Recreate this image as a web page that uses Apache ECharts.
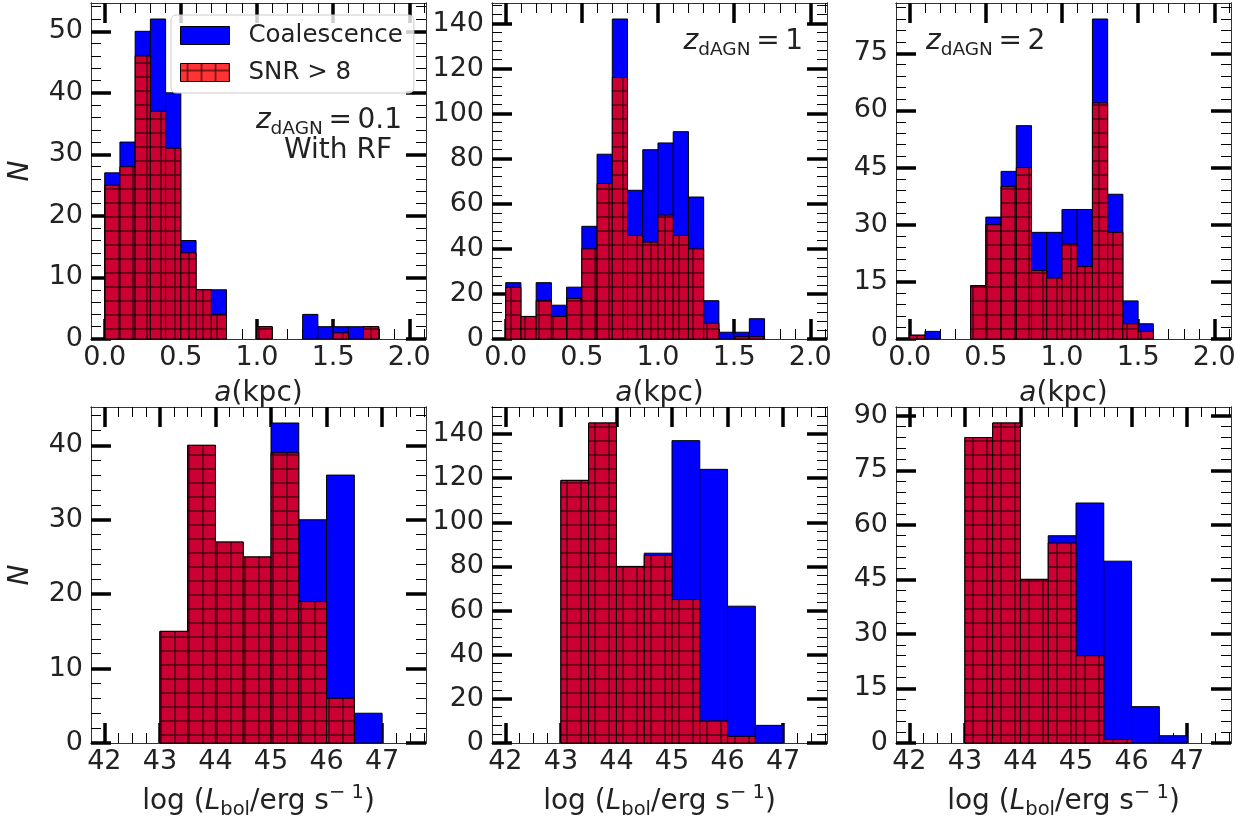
<!DOCTYPE html>
<html>
<head>
<meta charset="utf-8">
<script src="https://cdn.jsdelivr.net/npm/echarts@6/dist/echarts.min.js"></script>
<style>
html, body { margin: 0; padding: 0; background: #fff; }
#main { width: 1250px; height: 821px; }
</style>
</head>
<body>
<div id="main"></div>
<script>
// bin left edges
var aBins = [0.0, 0.1, 0.2, 0.3, 0.4, 0.5, 0.6, 0.7, 0.8, 0.9, 1.0, 1.1, 1.2, 1.3, 1.4, 1.5, 1.6, 1.7];
var lBins = [43.0, 43.5, 44.0, 44.5, 45.0, 45.5, 46.0, 46.5];

// separation a(kpc), counts per bin
var coalA01 = [27, 32, 50, 52, 40, 16, 8, 8, 0, 0, 2, 0, 0, 4, 2, 2, 2, 2];
var snrA01  = [25, 28, 46, 37, 31, 14, 8, 4, 0, 0, 2, 0, 0, 0, 0, 1, 0, 2];
var coalA1  = [25, 10, 25, 15, 23, 50, 82, 142, 66, 84, 87, 92, 63, 17, 3, 3, 9];
var snrA1   = [23, 10, 17, 10, 18, 40, 69, 116, 46, 43, 55, 46, 40, 7, 0, 1, 1];
var coalA2  = [1, 2, 0, 0, 14, 32, 44, 56, 28, 28, 34, 34, 84, 38, 10, 4];
var snrA2   = [1, 0, 0, 0, 14, 30, 40, 45, 18, 16, 25, 19, 62, 28, 4, 2];

// log L_bol, counts per bin
var coalL01 = [15, 40, 27, 25, 43, 30, 36, 4];
var snrL01  = [15, 40, 27, 25, 39, 19, 6, 0];
var coalL1  = [119, 145, 80, 86, 137, 124, 62, 8];
var snrL1   = [119, 145, 80, 85, 65, 10, 3, 0];
var coalL2  = [84, 88, 45, 57, 66, 50, 10, 2];
var snrL2   = [84, 88, 45, 55, 24, 1, 0, 0];

// tick labels
var aTicks = [0, 0.5, 1.0, 1.5, 2.0];
var lTicks = [42, 43, 44, 45, 46, 47];
var yTicksA01 = [0, 10, 20, 30, 40, 50];
var yTicksA1  = [0, 20, 40, 60, 80, 100, 120, 140];
var yTicksA2  = [0, 15, 30, 45, 60, 75];
var yTicksL01 = [0, 10, 20, 30, 40];
var yTicksL1  = [0, 20, 40, 60, 80, 100, 120, 140];
var yTicksL2  = [0, 15, 30, 45, 60, 75, 90];

var FONT = 'DejaVu Sans';
var TXT = '#222';

var chart = echarts.init(document.getElementById('main'));

function hatch(bg) {
    var c = document.createElement('canvas');
    c.width = 14; c.height = 14;
    var ctx = c.getContext('2d');
    ctx.fillStyle = bg;
    ctx.fillRect(0, 0, 14, 14);
    ctx.strokeStyle = 'rgba(25,0,8,0.75)';
    ctx.lineWidth = 1.4;
    ctx.beginPath();
    ctx.moveTo(0, 7); ctx.lineTo(14, 7);
    ctx.moveTo(7, 0); ctx.lineTo(7, 14);
    ctx.stroke();
    return { image: c, repeat: 'repeat' };
}
var redFill = hatch('#cc0033');
var redLegend = hatch('#ff3333');

var panels = [
    { left: 91,  top: 3,   bins: aBins, w: 0.1, coal: coalA01, snr: snrA01, xmin: -0.09, xmax: 2.11, xt: aTicks, xmi: 0.1,  yt: yTicksA01, ymi: 2, kind: 'a', yname: true },
    { left: 492, top: 3,   bins: aBins, w: 0.1, coal: coalA1,  snr: snrA1,  xmin: -0.09, xmax: 2.11, xt: aTicks, xmi: 0.1,  yt: yTicksA1,  ymi: 4, kind: 'a' },
    { left: 896, top: 3,   bins: aBins, w: 0.1, coal: coalA2,  snr: snrA2,  xmin: -0.09, xmax: 2.11, xt: aTicks, xmi: 0.1,  yt: yTicksA2,  ymi: 3, kind: 'a' },
    { left: 91,  top: 407, bins: lBins, w: 0.5, coal: coalL01, snr: snrL01, xmin: 41.76, xmax: 47.79, xt: lTicks, xmi: 0.25, yt: yTicksL01, ymi: 2, kind: 'l', yname: true },
    { left: 492, top: 407, bins: lBins, w: 0.5, coal: coalL1,  snr: snrL1,  xmin: 41.76, xmax: 47.79, xt: lTicks, xmi: 0.25, yt: yTicksL1,  ymi: 4, kind: 'l' },
    { left: 896, top: 407, bins: lBins, w: 0.5, coal: coalL2,  snr: snrL2,  xmin: 41.76, xmax: 47.79, xt: lTicks, xmi: 0.25, yt: yTicksL2,  ymi: 3, kind: 'l' }
];

function minorVals(min, max, step, majors) {
    var out = [];
    for (var k = Math.ceil(min / step); k * step < max; k++) {
        var v = +(k * step).toFixed(4);
        if (v <= min) continue;
        if (majors.some(function (m) { return Math.abs(m - v) < 1e-6; })) continue;
        out.push(v);
    }
    return out;
}

function rich() {
    return {
        n: { fontSize: 28, fontFamily: FONT, color: TXT },
        i: { fontSize: 28, fontFamily: FONT, fontStyle: 'italic', color: TXT },
        sub: { fontSize: 19.5, fontFamily: FONT, color: TXT, padding: [16, 0, 0, 0] },
        sup: { fontSize: 19.5, fontFamily: FONT, color: TXT, padding: [0, 0, 18, 0] }
    };
}

function renderer(fill) {
    return function (params, api) {
        var n = api.value(2);
        if (!n) return;
        var p0 = api.coord([api.value(0), n]);
        var p1 = api.coord([api.value(1), 0]);
        return {
            type: 'rect',
            shape: { x: p0[0], y: p0[1], width: p1[0] - p0[0], height: p1[1] - p0[1] },
            style: { fill: fill, stroke: '#000', lineWidth: 1 }
        };
    };
}

var grids = [], xAxes = [], yAxes = [], series = [];
var lineStyle = { color: '#333', width: 1 };

panels.forEach(function (p, gi) {
    grids.push({ left: p.left, top: p.top, width: 335, height: 336 });
    var ymax = Math.max.apply(null, p.coal) * 1.05;
    var xMinor = minorVals(p.xmin, p.xmax, p.xmi, p.xt);
    var yMinor = minorVals(0, ymax, p.ymi, p.yt);
    var xb = { type: 'value', gridIndex: gi, min: p.xmin, max: p.xmax, splitLine: { show: false },
               axisLine: { show: true, onZero: false, lineStyle: lineStyle } };
    var yb = { type: 'value', gridIndex: gi, min: 0, max: ymax, splitLine: { show: false },
               axisLine: { show: true, onZero: false, lineStyle: lineStyle } };
    var major = function (vals) { return { inside: true, length: 20, customValues: vals, lineStyle: { color: '#000', width: 3.5 } }; };
    var minor = function (vals) { return { inside: true, length: 10, customValues: vals, lineStyle: { color: '#000', width: 1 } }; };
    var xname = p.kind === 'a' ? '{i|a}{n|(kpc)}' : '{n|log (}{i|L}{sub|bol}{n|/erg s}{sup|− 1}{n|)}';

    xAxes.push(Object.assign({}, xb, {
        position: 'bottom', name: xname, nameLocation: 'middle', nameGap: p.kind === 'a' ? 41 : 40,
        nameTextStyle: { rich: rich() },
        axisTick: major(p.xt),
        axisLabel: { customValues: p.xt, fontSize: 27, fontFamily: FONT, color: TXT, margin: 5,
                     formatter: function (v) { return p.kind === 'a' ? v.toFixed(1) : String(v); } }
    }));
    xAxes.push(Object.assign({}, xb, { position: 'bottom', axisTick: minor(xMinor), axisLabel: { show: false } }));
    xAxes.push(Object.assign({}, xb, { position: 'top', axisTick: major(p.xt), axisLabel: { show: false } }));
    xAxes.push(Object.assign({}, xb, { position: 'top', axisTick: minor(xMinor), axisLabel: { show: false } }));

    yAxes.push(Object.assign({}, yb, {
        position: 'left',
        name: p.yname ? '{i|N}' : '', nameLocation: 'middle', nameGap: 56,
        nameTextStyle: { rich: rich() },
        axisTick: major(p.yt),
        axisLabel: { customValues: p.yt, fontSize: 27, fontFamily: FONT, color: TXT, margin: 8 }
    }));
    yAxes.push(Object.assign({}, yb, { position: 'left', axisTick: minor(yMinor), axisLabel: { show: false } }));
    yAxes.push(Object.assign({}, yb, { position: 'right', axisTick: major(p.yt), axisLabel: { show: false } }));
    yAxes.push(Object.assign({}, yb, { position: 'right', axisTick: minor(yMinor), axisLabel: { show: false } }));

    var coalData = [], snrData = [];
    for (var k = 0; k < p.coal.length; k++) {
        var x0 = p.bins[k];
        coalData.push([x0, +(x0 + p.w).toFixed(2), p.coal[k]]);
        snrData.push([x0, +(x0 + p.w).toFixed(2), p.snr[k]]);
    }
    series.push({
        type: 'custom', name: 'Coalescence', xAxisIndex: gi * 4, yAxisIndex: gi * 4,
        renderItem: renderer('#0000ff'), encode: { x: [0, 1], y: 2 },
        itemStyle: { color: '#0000ff' }, data: coalData, silent: true
    });
    series.push({
        type: 'custom', name: 'SNR > 8', xAxisIndex: gi * 4, yAxisIndex: gi * 4,
        renderItem: renderer(redFill), encode: { x: [0, 1], y: 2 },
        itemStyle: { color: '#cc0033' }, data: snrData, silent: true
    });
});

function zText(val) {
    return '{z|z}{s|dAGN}{n|\u2009=\u2009' + val + '}';
}
var zRich = {
    z: { fontSize: 28, fontFamily: FONT, fontStyle: 'italic', fill: TXT },
    s: { fontSize: 18.5, fontFamily: FONT, fill: TXT, padding: [16, 0, 0, 0] },
    n: { fontSize: 28, fontFamily: FONT, fill: TXT }
};

chart.setOption({
    animation: false,
    backgroundColor: '#fff',
    grid: grids,
    xAxis: xAxes,
    yAxis: yAxes,
    series: series,
    legend: {
        orient: 'vertical', left: 171, top: 15, padding: [8, 11, 8, 9],
        itemWidth: 49, itemHeight: 18, itemGap: 12,
        backgroundColor: 'rgba(255,255,255,0.8)', borderColor: '#ccc', borderWidth: 1, borderRadius: 5,
        textStyle: { fontSize: 24.5, fontFamily: FONT, color: TXT, padding: [0, 0, 0, 14] },
        data: [
            { name: 'Coalescence', icon: 'rect', itemStyle: { color: '#0000ff', borderColor: '#000', borderWidth: 1 } },
            { name: 'SNR > 8', icon: 'rect', itemStyle: { color: redLegend, borderColor: '#000', borderWidth: 1 } }
        ]
    },
    graphic: [
        { type: 'text', x: 402, y: 121, style: { text: zText('0.1'), rich: zRich, align: 'right', verticalAlign: 'middle' } },
        { type: 'text', x: 392, y: 151, style: { text: 'With RF', fontSize: 28, fontFamily: FONT, fill: TXT, align: 'right', verticalAlign: 'middle' } },
        { type: 'text', x: 803, y: 42, style: { text: zText('1'), rich: zRich, align: 'right', verticalAlign: 'middle' } },
        { type: 'text', x: 926, y: 42, style: { text: zText('2'), rich: zRich, align: 'left', verticalAlign: 'middle' } }
    ]
});
</script>
</body>
</html>
